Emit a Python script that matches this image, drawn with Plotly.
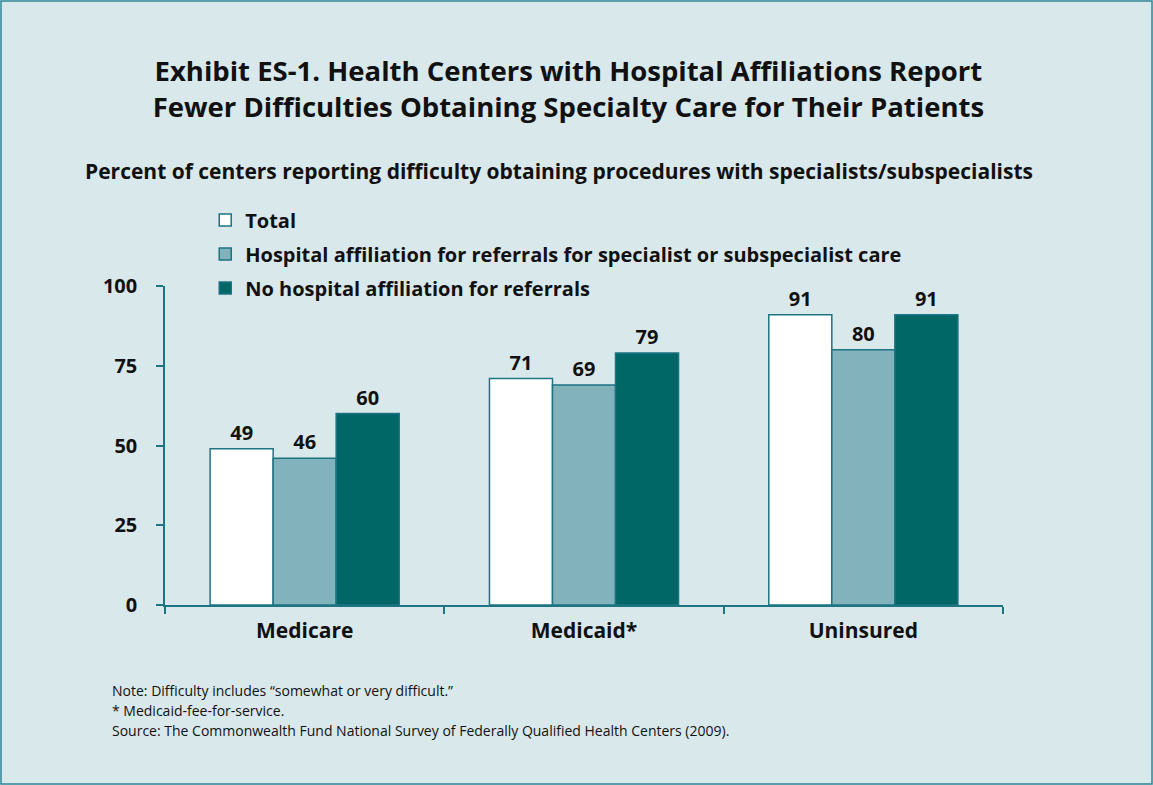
import plotly.graph_objects as go

categories = ["Medicare", "Medicaid*", "Uninsured"]
series_names = [
    "Total",
    "Hospital affiliation for referrals for specialist or subspecialist care",
    "No hospital affiliation for referrals",
]
total = [49, 71, 91]
hospital = [46, 69, 80]
no_hospital = [60, 79, 91]
y_ticks = [0, 25, 50, 75, 100]

colors = ["#ffffff", "#82b2bc", "#006666"]
outline = "#1d7482"
bg = "#d9e8eb"
FONT = "Open Sans"

fig = go.Figure()
for name, vals, col in zip(series_names, [total, hospital, no_hospital], colors):
    fig.add_trace(go.Bar(
        x=categories, y=vals, name=name,
        marker=dict(color=col, line=dict(color=outline, width=1.5)),
        text=[str(v) for v in vals], textposition="outside",
        textfont=dict(family=FONT, size=20, color="#111111", weight="bold"),
        cliponaxis=False, legendgroup=name,
    ))

fig.update_layout(
    width=1153, height=785,
    paper_bgcolor=bg, plot_bgcolor=bg,
    margin=dict(l=165, r=150, t=286, b=180),
    barmode="group", bargap=0.323, bargroupgap=0,
    font=dict(family=FONT, color="#111111"),
    showlegend=True,
    legend=dict(
        x=0.048, xanchor="left", y=1.268, yanchor="top",
        bgcolor="rgba(0,0,0,0)", traceorder="grouped", tracegroupgap=5,
        font=dict(family=FONT, size=20, color="#111111", weight="bold"),
    ),
    title=dict(
        text="Exhibit ES-1. Health Centers with Hospital Affiliations Report<br>Fewer Difficulties Obtaining Specialty Care for Their Patients",
        x=0.493, xanchor="center", xref="container",
        y=1 - 81 / 785, yanchor="middle", yref="container",
        font=dict(family=FONT, size=27.5, color="#111111", weight="bold"),
    ),
    xaxis=dict(
        showline=True, linecolor=outline, linewidth=1.5,
        ticks="outside", tickson="boundaries", ticklen=7, tickcolor=outline, tickwidth=1.5,
        tickfont=dict(family=FONT, size=21, color="#111111", weight="bold"),
        showgrid=False, ticklabelstandoff=6,
    ),
    yaxis=dict(
        range=[0, 100], tickvals=y_ticks, showline=True, linecolor=outline, linewidth=1.5,
        ticks="outside", ticklen=7, tickcolor=outline, tickwidth=1.5,
        tickfont=dict(family=FONT, size=20, color="#111111", weight="bold"),
        showgrid=False, zeroline=False, ticklabelstandoff=15,
    ),
    shapes=[dict(type="rect", xref="paper", yref="paper",
                 x0=(1 - 165) / 838, x1=(1152 - 165) / 838,
                 y0=(605 - 784) / 319, y1=(605 - 1) / 319,
                 line=dict(color="#2b8797", width=1.5), fillcolor="rgba(0,0,0,0)", layer="below")],
)

def py(p):
    return (605 - p) / 319

fig.add_annotation(
    text="Percent of centers reporting difficulty obtaining procedures with specialists/subspecialists",
    xref="paper", yref="paper", x=(559 - 165) / 838, y=py(171), xanchor="center", yanchor="middle",
    showarrow=False, font=dict(family=FONT, size=21, color="#111111", weight="bold"),
)
notes = [
    ("Note: Difficulty includes \u201csomewhat or very difficult.\u201d", 690),
    ("* Medicaid-fee-for-service.", 710),
    ("Source: The Commonwealth Fund National Survey of Federally Qualified Health Centers (2009).", 730),
]
for t, yy in notes:
    fig.add_annotation(text=t, xref="paper", yref="paper", x=(110 - 165) / 838, y=py(yy),
                       xanchor="left", yanchor="middle", showarrow=False,
                       font=dict(family=FONT, size=14, color="#111111"))

fig.write_html("out.html", config={"displayModeBar": False},
               post_script="document.body.style.margin='0';document.body.style.overflow='hidden';")
